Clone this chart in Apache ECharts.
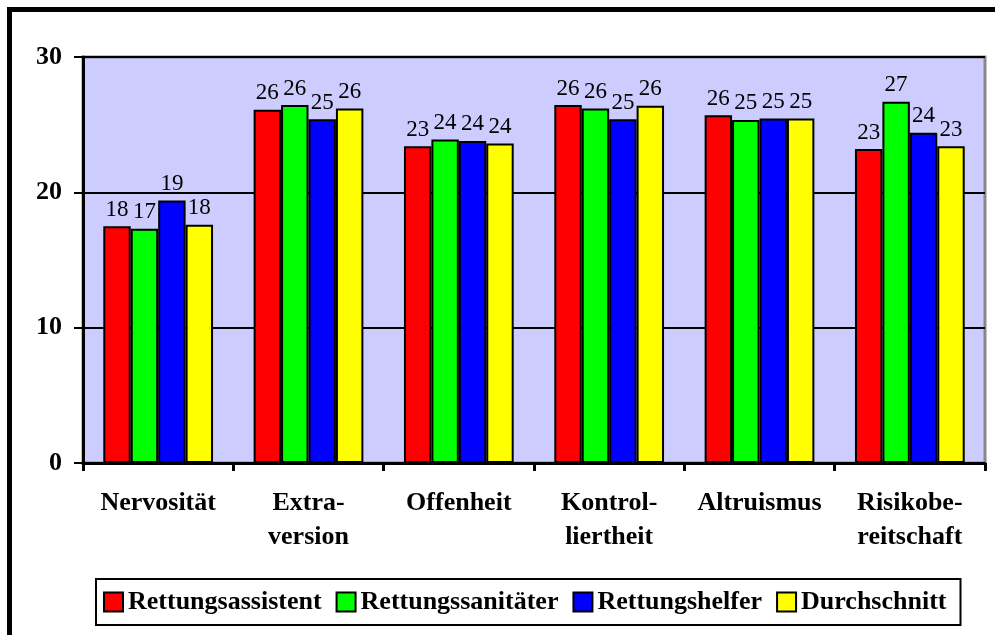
<!DOCTYPE html>
<html>
<head>
<meta charset="utf-8">
<script src="https://cdn.jsdelivr.net/npm/echarts@6/dist/echarts.min.js"></script>
<style>
  html, body { margin: 0; padding: 0; background: #fff; }
  #chart { width: 995px; height: 635px; }
</style>
</head>
<body>
<div id="chart"></div>
<script>
// Kategorien (Persönlichkeitsmerkmale)
const categories = ['Nervosität', 'Extra-\nversion', 'Offenheit', 'Kontrol-\nliertheit', 'Altruismus', 'Risikobe-\nreitschaft']
const seriesNames = ['Rettungsassistent', 'Rettungssanitäter', 'Rettungshelfer', 'Durchschnitt']
// Mittelwerte je Gruppe
const assistent = [17.5, 26.1, 23.4, 26.45, 25.7, 23.2]
const sanitaeter = [17.3, 26.45, 23.9, 26.2, 25.35, 26.7]
const helfer = [19.4, 25.4, 23.8, 25.4, 25.45, 24.4]
const durchschnitt = [17.6, 26.2, 23.6, 26.4, 25.45, 23.4]
const colors = ['#ff0000', '#00ff00', '#0000ff', '#ffff00']

const serif = 'Liberation Serif, Times New Roman, serif'
const chart = echarts.init(document.getElementById('chart'))

const makeSeries = (name, data, idx) => {
  return {
    name: name,
    type: 'bar',
    data: data,
    barGap: '0%',
    barCategoryGap: '27%',
    itemStyle: {
      color: colors[idx],
      borderColor: '#000',
      borderWidth: 2
    },
    label: {
      show: true,
      position: 'top',
      distance: 5,
      color: '#000',
      fontFamily: serif,
      fontSize: 23,
      formatter: (p) => Math.round(p.value)
    }
  }
}

const option = {
  animation: false,
  backgroundColor: '#fff',
  grid: {
    left: 83,
    right: 10,
    top: 57,
    bottom: 172,
    show: true,
    backgroundColor: '#ccccff',
    borderColor: '#888',
    borderWidth: 3
  },
  legend: {
    data: seriesNames,
    icon: 'rect',
    left: 96,
    top: 579,
    itemWidth: 19,
    itemHeight: 19,
    itemGap: 14,
    padding: [10, 14, 10, 7],
    borderColor: '#000',
    borderWidth: 2,
    textStyle: {
      fontFamily: serif,
      fontWeight: 'bold',
      fontSize: 26,
      color: '#000'
    }
  },
  xAxis: {
    type: 'category',
    data: categories,
    axisLine: { lineStyle: { color: '#000', width: 3 } },
    axisTick: { show: true, length: 8, lineStyle: { color: '#000', width: 3 } },
    axisLabel: {
      interval: 0,
      fontFamily: serif,
      fontWeight: 'bold',
      fontSize: 26,
      lineHeight: 34,
      color: '#000',
      margin: 23
    }
  },
  yAxis: {
    type: 'value',
    min: 0,
    max: 30,
    interval: 10,
    axisLine: { show: true, lineStyle: { color: '#000', width: 3 } },
    axisTick: { show: true, length: 9, lineStyle: { color: '#000', width: 2 } },
    splitLine: { show: true, lineStyle: { color: '#000', width: 2 } },
    axisLabel: {
      fontFamily: serif,
      fontWeight: 'bold',
      fontSize: 26,
      color: '#000',
      margin: 21
    }
  },
  graphic: [
    {
      type: 'rect',
      shape: { x: 9.5, y: 9.5, width: 2000, height: 2000 },
      style: { fill: 'none', stroke: '#000', lineWidth: 5 },
      silent: true
    }
  ],
  series: [
    makeSeries(seriesNames[0], assistent, 0),
    makeSeries(seriesNames[1], sanitaeter, 1),
    makeSeries(seriesNames[2], helfer, 2),
    makeSeries(seriesNames[3], durchschnitt, 3)
  ]
}

chart.setOption(option)
</script>
</body>
</html>
